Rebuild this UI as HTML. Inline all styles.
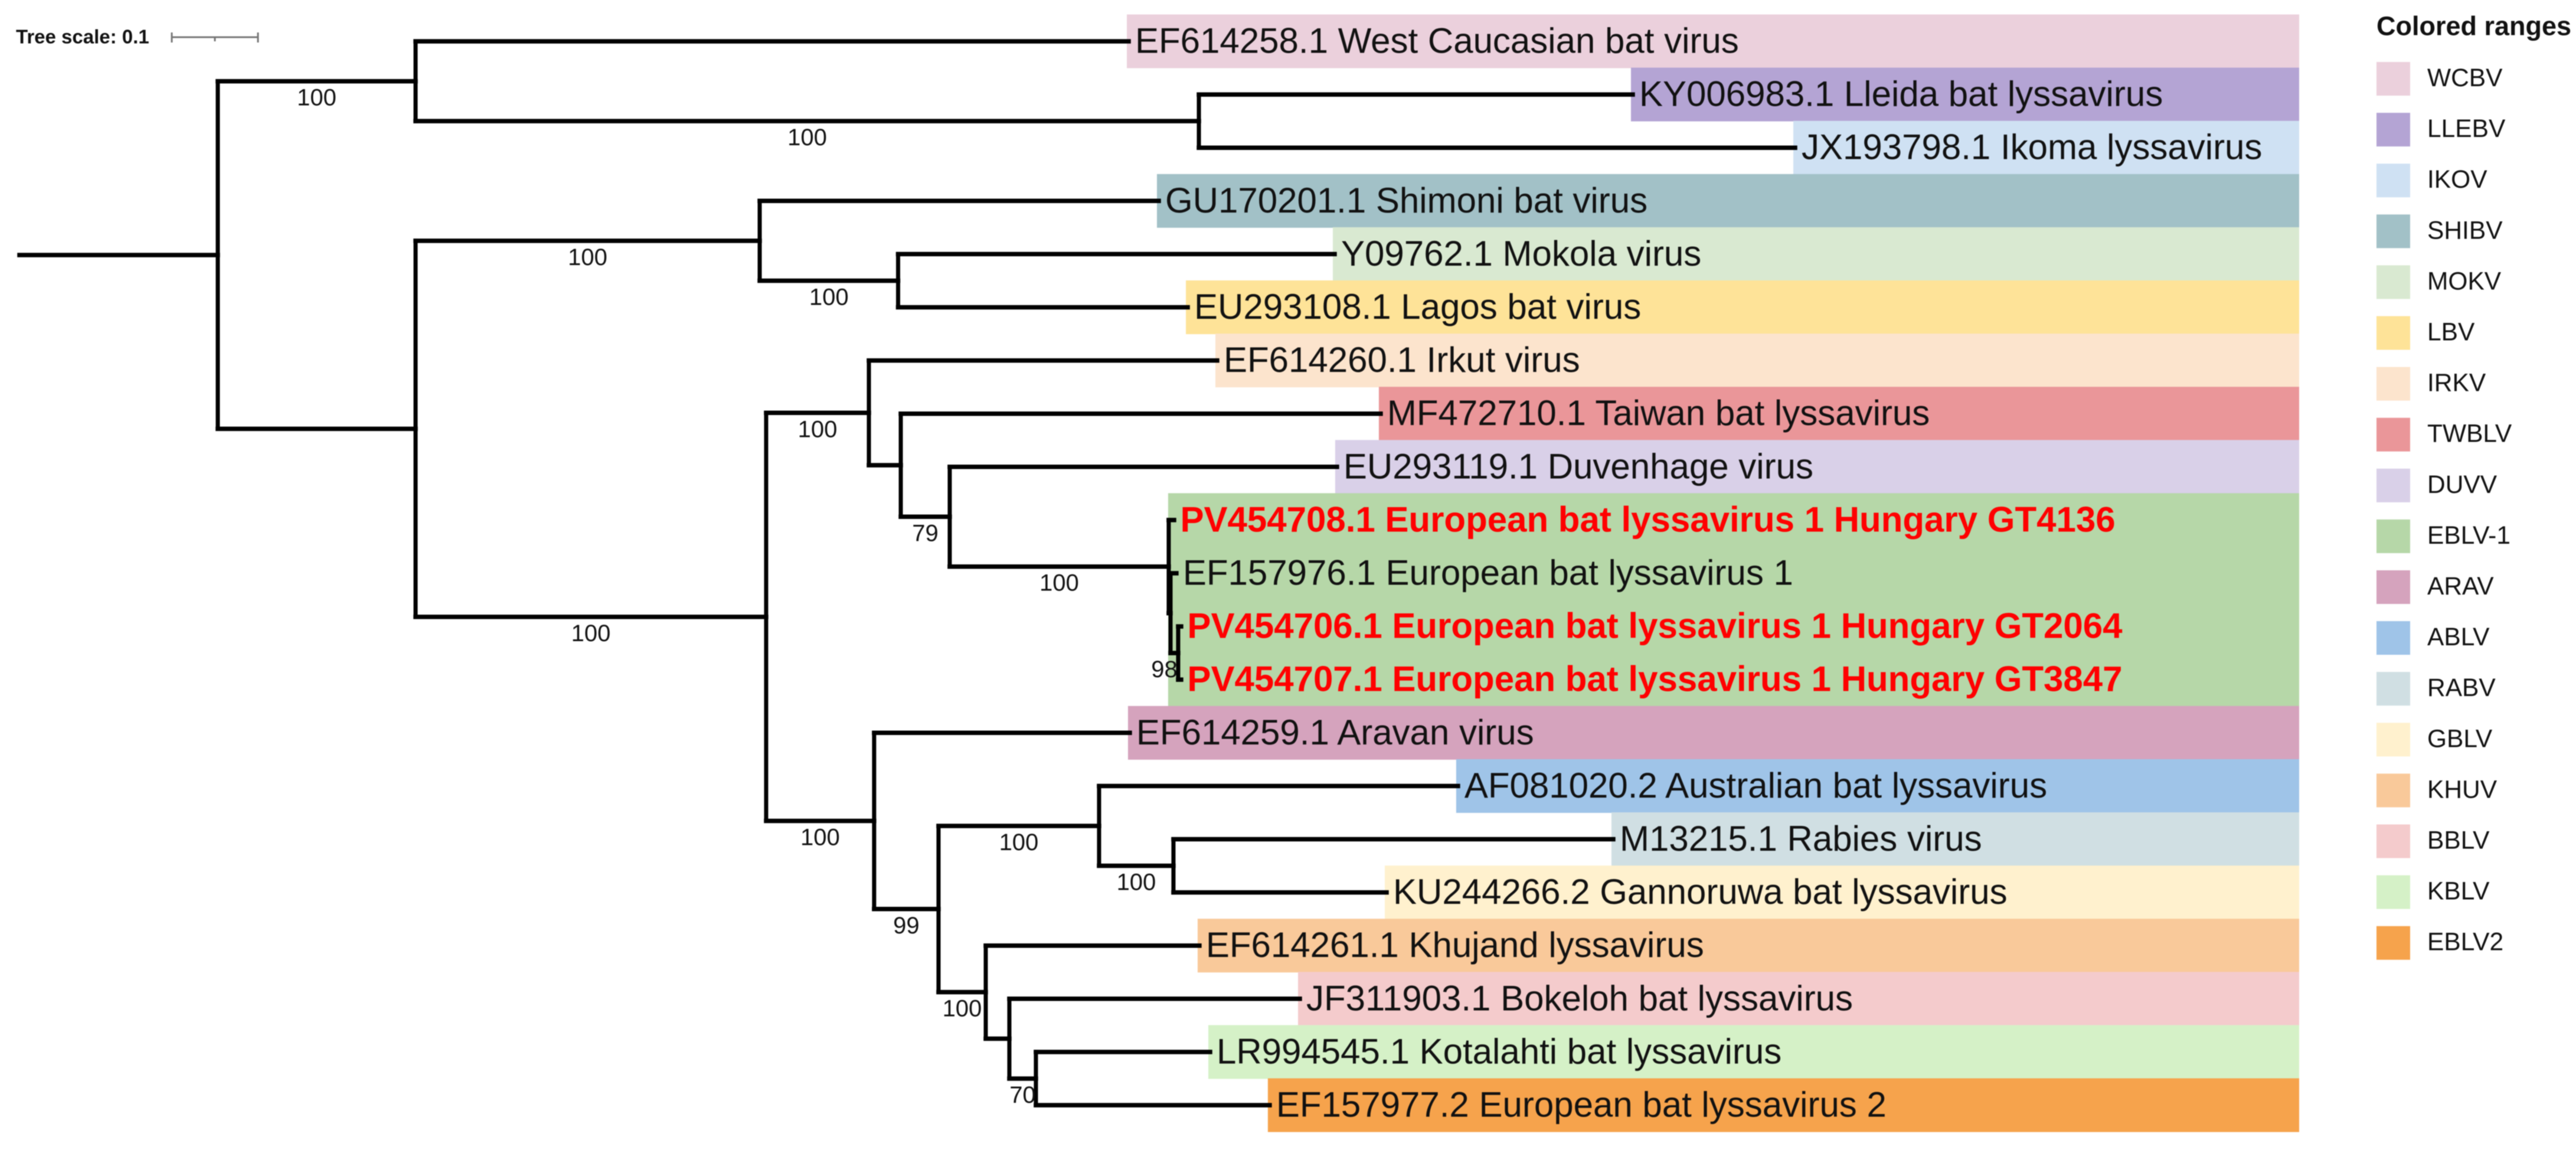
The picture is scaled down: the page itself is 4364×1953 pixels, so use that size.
<!DOCTYPE html>
<html lang="en">
<head>
<meta charset="utf-8">
<title>Lyssavirus phylogenetic tree</title>
<style>
html,body{margin:0;padding:0;background:#fff;width:4364px;height:1953px;overflow:hidden}
svg{display:block;filter:blur(0.8px)}
text{font-family:"Liberation Sans",Arial,sans-serif;fill:#111}
</style>
</head>
<body>
<svg id="chart" xmlns="http://www.w3.org/2000/svg" width="4364" height="1953" viewBox="0 0 4364 1953">
  <rect x="0" y="0" width="4364" height="1953" fill="#fff"/>
  <g id="bands"></g>
  <g id="branches"></g>
  <g id="supports"></g>
  <g id="leaves"></g>
  <g id="scale"></g>
  <g id="legend"></g>
</svg>
<script>
// ---- tree data (pre-order; children listed in display order) ----
const nodeIds = ['n1','n2','WCBV','n3','LLEBV','IKOV','n4','n5','SHIBV','n6','MOKV','LBV','n8','n9','IRKV','n10','TWBLV','n11','DUVV','n12','PV708','n13','EF976','n15','PV706','PV707','n16','ARAV','n17','n18','ABLV','n19','RABV','GBLV','n20','KHUV','n21','BBLV','n22','KBLV','EBLV2'];
const nodeParents = [null,'n1','n2','n2','n3','n3','n1','n4','n5','n5','n6','n6','n4','n8','n9','n9','n10','n10','n11','n11','n12','n12','n13','n13','n15','n15','n8','n16','n16','n17','n18','n18','n19','n19','n17','n20','n20','n21','n21','n22','n22'];
const branchLengths = [0.2301,0.2295,0.8274,0.9089,0.5034,0.6918,0.2295,0.3993,0.4630,0.1606,0.5065,0.3360,0.4068,0.1192,0.4041,0.0370,0.5568,0.0568,0.4493,0.2541,0.0062,0.0021,0.0068,0.0089,0.0034,0.0034,0.1253,0.2966,0.0747,0.1863,0.4164,0.0863,0.5103,0.2473,0.0548,0.2479,0.0274,0.3370,0.0308,0.2021,0.2712];
const supportValues = [null,100,null,100,null,null,null,100,null,100,null,null,100,100,null,null,null,79,null,100,null,null,null,98,null,null,100,null,99,100,null,100,null,null,100,null,null,null,70,null,null];

const leafIds = ['WCBV','LLEBV','IKOV','SHIBV','MOKV','LBV','IRKV','TWBLV','DUVV','PV708','EF976','PV706','PV707','ARAV','ABLV','RABV','GBLV','KHUV','BBLV','KBLV','EBLV2'];
const leafLabels = ['EF614258.1 West Caucasian bat virus','KY006983.1 Lleida bat lyssavirus','JX193798.1 Ikoma lyssavirus','GU170201.1 Shimoni bat virus','Y09762.1 Mokola virus','EU293108.1 Lagos bat virus','EF614260.1 Irkut virus','MF472710.1 Taiwan bat lyssavirus','EU293119.1 Duvenhage virus','PV454708.1 European bat lyssavirus 1 Hungary GT4136','EF157976.1 European bat lyssavirus 1','PV454706.1 European bat lyssavirus 1 Hungary GT2064','PV454707.1 European bat lyssavirus 1 Hungary GT3847','EF614259.1 Aravan virus','AF081020.2 Australian bat lyssavirus','M13215.1 Rabies virus','KU244266.2 Gannoruwa bat lyssavirus','EF614261.1 Khujand lyssavirus','JF311903.1 Bokeloh bat lyssavirus','LR994545.1 Kotalahti bat lyssavirus','EF157977.2 European bat lyssavirus 2'];
const leafRanges = ['WCBV','LLEBV','IKOV','SHIBV','MOKV','LBV','IRKV','TWBLV','DUVV','EBLV-1','EBLV-1','EBLV-1','EBLV-1','ARAV','ABLV','RABV','GBLV','KHUV','BBLV','KBLV','EBLV2'];
const highlightedLeaves = ['PV708','PV706','PV707'];
const legendEntries = ['WCBV','LLEBV','IKOV','SHIBV','MOKV','LBV','IRKV','TWBLV','DUVV','EBLV-1','ARAV','ABLV','RABV','GBLV','KHUV','BBLV','KBLV','EBLV2'];
const treeScaleValue = 0.1;

// ---- styling ----
const palette = {'WCBV':'#ebd0dc','LLEBV':'#b4a4d4','IKOV':'#cfe1f3','SHIBV':'#a2c1c7','MOKV':'#d9e9d1','LBV':'#fee398','IRKV':'#fce4cd','TWBLV':'#ea9699','DUVV':'#d9d0e8','EBLV-1':'#b6d7a8','ARAV':'#d5a3bd','ABLV':'#9fc4e8','RABV':'#d0dfe3','GBLV':'#fff1ce','KHUV':'#f9c99a','BBLV':'#f4cbcc','KBLV':'#d5f1c7','EBLV2':'#f6a34c'};

// ---- axis functions ----
const NS = 'http://www.w3.org/2000/svg';
const xScale = d => 33 + d * 1460;
const yScale = i => 70 + i * 90.1;
const legendY = i => 105 + i * 86.1;

function mk(tag, parent, attrs, txt) {
  const el = document.createElementNS(NS, tag);
  for (const k in attrs) el.setAttribute(k, attrs[k]);
  if (txt !== undefined) el.textContent = txt;
  parent.appendChild(el);
  return el;
}

// ---- layout ----
const nodes = {};
nodeIds.forEach((id, i) => {
  nodes[id] = {id, len: branchLengths[i], parent: nodeParents[i], support: supportValues[i], children: []};
});
nodeIds.forEach(id => { const p = nodes[id].parent; if (p) nodes[p].children.push(id); });
function layout(id, depth) {
  const n = nodes[id];
  n.depth = depth + n.len;
  n.x = xScale(n.depth);
  n.px = xScale(depth);
  if (n.children.length === 0) {
    n.y = yScale(leafIds.indexOf(id));
  } else {
    n.children.forEach(c => layout(c, n.depth));
    n.y = (nodes[n.children[0]].y + nodes[n.children[n.children.length - 1]].y) / 2;
  }
}
layout('n1', 0);

// ---- colored ranges ----
const bandLayer = document.getElementById('bands');
legendEntries.forEach(range => {
  const ids = leafIds.filter((id, i) => leafRanges[i] === range);
  const ys = ids.map(id => nodes[id].y);
  const left = ids.length > 1 ? nodes[nodes[ids[0]].parent].x - 1 : nodes[ids[0]].x - 3;
  const top = Math.min(...ys) - 45.5;
  const bottom = Math.max(...ys) + 45.5;
  const r = mk('rect', bandLayer, {x: left, y: top, width: 3895 - left, height: bottom - top, fill: palette[range]});
  
  
});

// ---- branches ----
const branchLayer = document.getElementById('branches');
nodeIds.forEach(id => {
  const n = nodes[id];
  const h = mk('line', branchLayer, {x1: n.px, x2: n.x, y1: n.y, y2: n.y, stroke: '#000', 'stroke-width': 7.5, 'stroke-linecap': 'square'});
  
  
  if (n.children.length) {
    const a = nodes[n.children[0]], b = nodes[n.children[n.children.length - 1]];
    const v = mk('line', branchLayer, {x1: n.x, x2: n.x, y1: a.y, y2: b.y, stroke: '#000', 'stroke-width': 7, 'stroke-linecap': 'square'});
    
    
  }
});

// ---- bootstrap values ----
const supportLayer = document.getElementById('supports');
nodeIds.forEach(id => {
  const n = nodes[id];
  if (n.support === null) return;
  const w = n.x - n.px;
  const cx = (n.x + n.px) / 2 + (w < 20 ? -17 : 0);
  const t = mk('text', supportLayer, {x: cx, y: n.y + 41, 'text-anchor': 'middle', 'font-size': 40}, String(n.support));
  
  
});

// ---- leaf labels ----
const leafLayer = document.getElementById('leaves');
leafIds.forEach((id, i) => {
  const n = nodes[id];
  const hi = highlightedLeaves.includes(id);
  const attrs = {x: n.x + (hi ? 10.5 : 11), y: n.y + 19.5, 'font-size': 60};
  if (hi) { attrs['font-weight'] = 'bold'; attrs['style'] = 'fill:#ff0000'; }
  const t = mk('text', leafLayer, attrs, leafLabels[i]);
  
  
});

// ---- tree scale ----
const scaleLayer = document.getElementById('scale');
const sx0 = 291, sx1 = sx0 + treeScaleValue * 1460, sy = 63;
const st = mk('text', scaleLayer, {x: 27, y: 73.5, 'font-size': 33, 'font-weight': 'bold'}, 'Tree scale: ' + treeScaleValue);


const sl = mk('path', scaleLayer, {d: `M${sx0} ${sy}H${sx1}M${sx0} 55V72M${sx1} 55V72M${(sx0 + sx1) / 2} ${sy}V70`, stroke: '#777', 'stroke-width': 3, fill: 'none'});



// ---- legend ----
const legendLayer = document.getElementById('legend');
const lt = mk('text', legendLayer, {x: 4026, y: 59.5, 'font-size': 45, 'font-weight': 'bold'}, 'Colored ranges');


legendEntries.forEach((range, i) => {
  const y = legendY(i);
  const s = mk('rect', legendLayer, {x: 4026, y: y, width: 57, height: 57, fill: palette[range]});
  
  
  const t = mk('text', legendLayer, {x: 4112, y: y + 41, 'font-size': 42.5}, range);
  
  
});
</script>
</body>
</html>
